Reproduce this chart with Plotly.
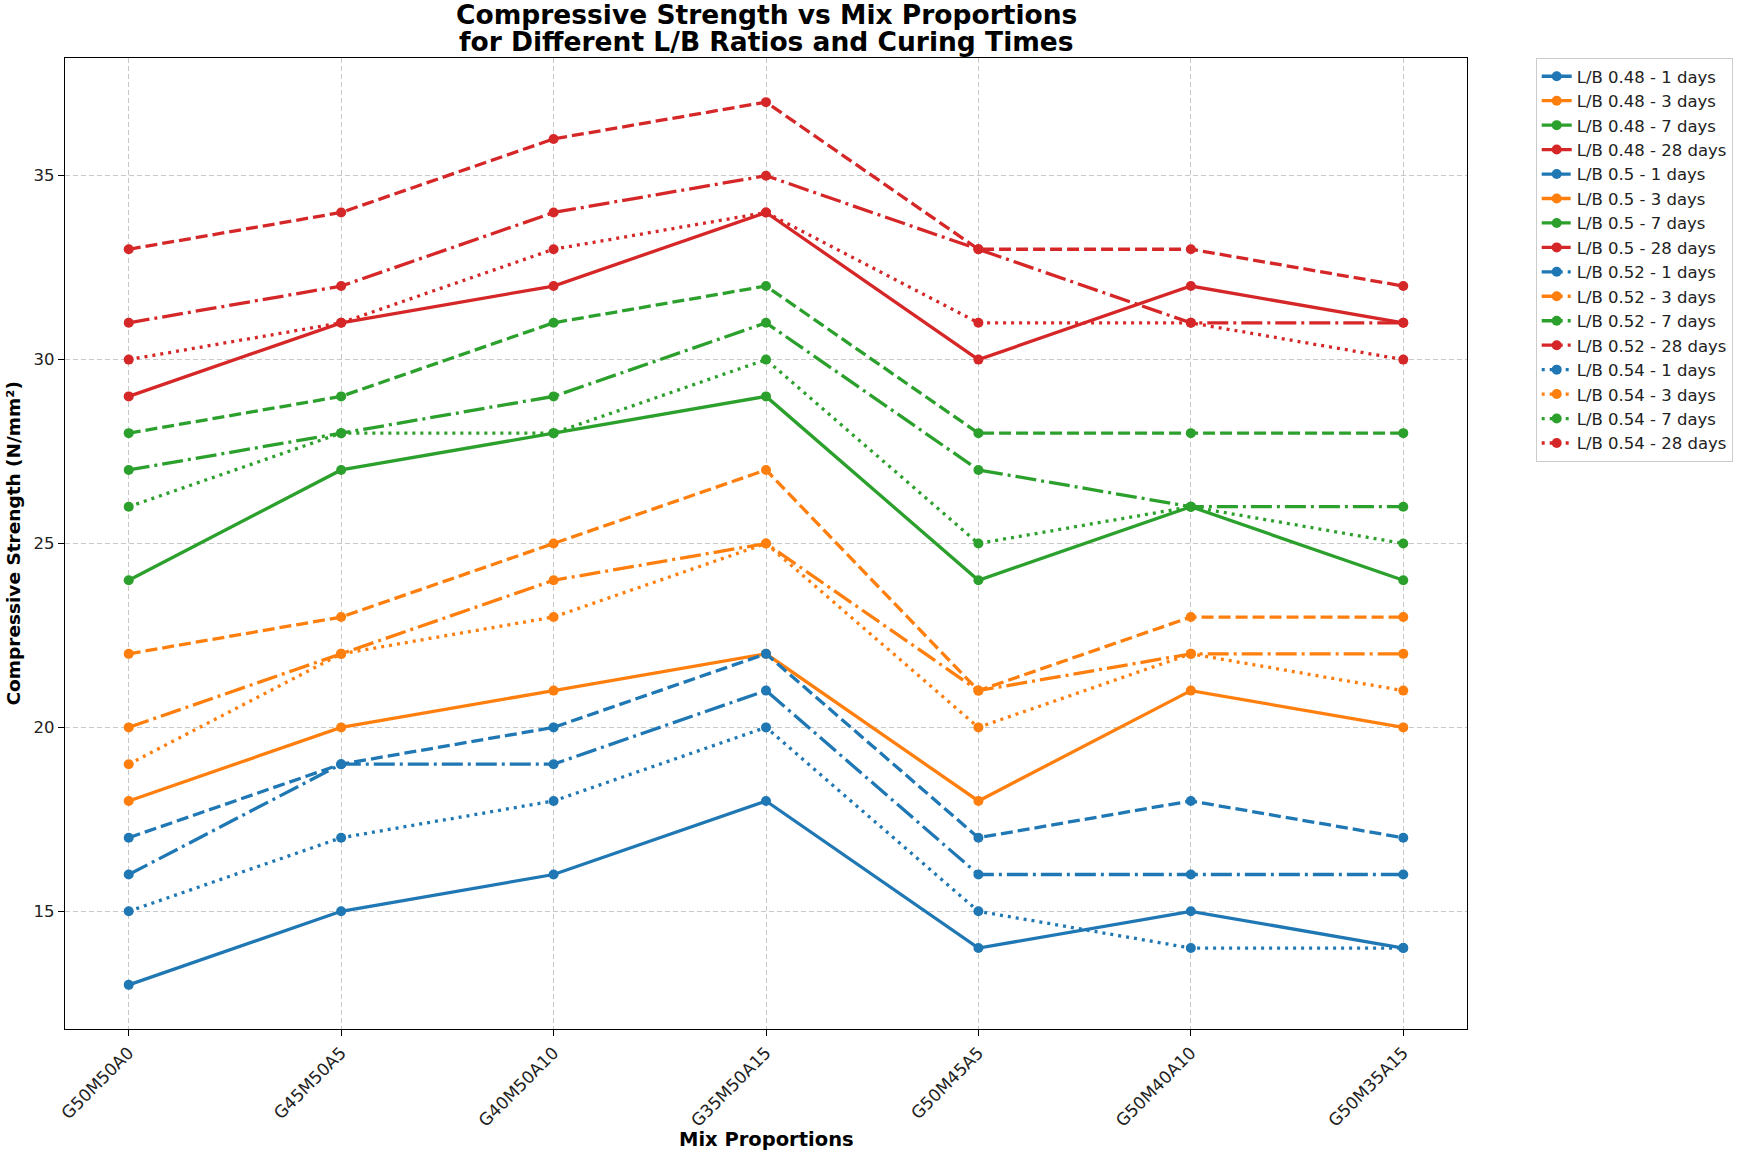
import plotly.graph_objects as go

# --- Dados ---
mixes = ["G50M50A0", "G45M50A5", "G40M50A10", "G35M50A15", "G50M45A5", "G50M40A10", "G50M35A15"]
lb_ratios = [0.48, 0.5, 0.52, 0.54]
curing_days = [1, 3, 7, 28]

lb048_day1 = [13, 15, 16, 18, 14, 15, 14]
lb048_day3 = [18, 20, 21, 22, 18, 21, 20]
lb048_day7 = [24, 27, 28, 29, 24, 26, 24]
lb048_day28 = [29, 31, 32, 34, 30, 32, 31]

lb050_day1 = [17, 19, 20, 22, 17, 18, 17]
lb050_day3 = [22, 23, 25, 27, 21, 23, 23]
lb050_day7 = [28, 29, 31, 32, 28, 28, 28]
lb050_day28 = [33, 34, 36, 37, 33, 33, 32]

lb052_day1 = [16, 19, 19, 21, 16, 16, 16]
lb052_day3 = [20, 22, 24, 25, 21, 22, 22]
lb052_day7 = [27, 28, 29, 31, 27, 26, 26]
lb052_day28 = [31, 32, 34, 35, 33, 31, 31]

lb054_day1 = [15, 17, 18, 20, 15, 14, 14]
lb054_day3 = [19, 22, 23, 25, 20, 22, 21]
lb054_day7 = [26, 28, 28, 30, 25, 26, 25]
lb054_day28 = [30, 31, 33, 34, 31, 31, 30]

series = {
    0.48: [lb048_day1, lb048_day3, lb048_day7, lb048_day28],
    0.5: [lb050_day1, lb050_day3, lb050_day7, lb050_day28],
    0.52: [lb052_day1, lb052_day3, lb052_day7, lb052_day28],
    0.54: [lb054_day1, lb054_day3, lb054_day7, lb054_day28],
}

# --- Estilos ---
cores = ["#1f77b4", "#ff7f0e", "#2ca02c", "#d62728"]
tracos = {0.48: "solid", 0.5: "12px,5px", 0.52: "21px,5px,3px,5px", 0.54: "3px,5px"}
FONTE = "DejaVu Sans"

fig = go.Figure()
for lb in lb_ratios:
    for cor, dia, valores in zip(cores, curing_days, series[lb]):
        fig.add_trace(go.Scatter(
            x=mixes, y=valores, mode="lines+markers",
            name=f"L/B {lb} - {dia} days",
            line=dict(color=cor, width=3.3, dash=tracos[lb]),
            marker=dict(color=cor, size=10),
        ))

eixo = dict(
    showline=True, linecolor="black", linewidth=1.3, mirror=True,
    ticks="outside", ticklen=6, tickcolor="black", tickwidth=1.3,
    showgrid=True, gridcolor="#c8c8c8", gridwidth=1.3, griddash="5px,3px",
    zeroline=False, automargin=False,
)

fig.update_layout(
    width=1750, height=1154,
    paper_bgcolor="white", plot_bgcolor="white",
    font=dict(family=FONTE, color="black"),
    margin=dict(l=65, r=283, t=58, b=125),
    xaxis=dict(eixo, range=[-0.3, 6.3], tickangle=-45,
               tickfont=dict(family=FONTE, size=17, color="#222")),
    yaxis=dict(eixo, range=[11.8, 38.2], tickvals=[15, 20, 25, 30, 35],
               tickfont=dict(family=FONTE, size=16.5, color="#222")),
    legend=dict(
        x=1.049, xanchor="left", y=1, yanchor="top",
        bordercolor="#cccccc", borderwidth=1,
        font=dict(family=FONTE, size=16.5, color="#222"),
        itemwidth=30,
    ),
)

# --- Títulos ---
titulo = ["Compressive Strength vs Mix Proportions", "for Different L/B Ratios and Curing Times"]
for texto, desloc in zip(titulo, [44, 17]):
    fig.add_annotation(text=f"<b>{texto}</b>", x=0.5, xref="paper", y=1, yref="paper",
                       yanchor="middle", yshift=desloc, showarrow=False,
                       font=dict(family=FONTE, size=26.5, color="black"))

fig.add_annotation(text="<b>Mix Proportions</b>", x=0.5, xref="paper", y=0, yref="paper",
                   yanchor="middle", yshift=-110, showarrow=False,
                   font=dict(family=FONTE, size=19.5, color="black"))
fig.add_annotation(text="<b>Compressive Strength (N/mm²)</b>", x=0, xref="paper", y=0.5, yref="paper",
                   xanchor="center", xshift=-52, textangle=-90, showarrow=False,
                   font=dict(family=FONTE, size=18.5, color="black"))

# tira a margem padrão do <body> para a figura ocupar a janela inteira
fig.write_html("out.html", config={"displayModeBar": False},
               post_script="document.body.style.margin = '0';")
